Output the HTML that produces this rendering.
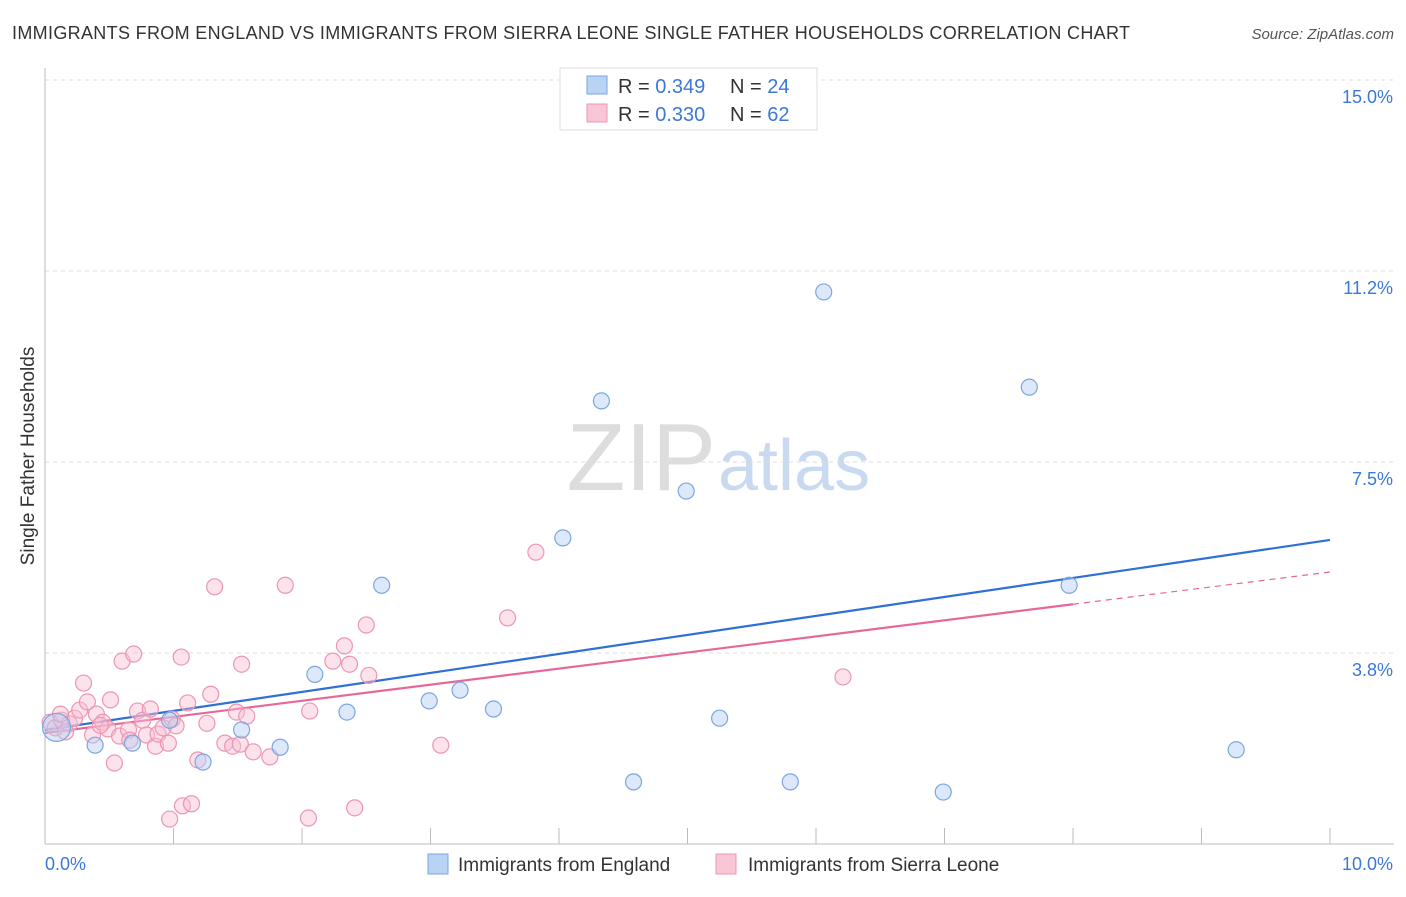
<!DOCTYPE html>
<html><head><meta charset="utf-8"><style>
body{margin:0;background:#fff;font-family:"Liberation Sans",sans-serif;}
svg text{font-family:"Liberation Sans",sans-serif;}
</style></head><body>
<svg id="chart" width="1406" height="892" xmlns="http://www.w3.org/2000/svg">
<text x="12" y="39" font-size="18" fill="#333" textLength="1118" lengthAdjust="spacing">IMMIGRANTS FROM ENGLAND VS IMMIGRANTS FROM SIERRA LEONE SINGLE FATHER HOUSEHOLDS CORRELATION CHART</text>
<text x="1394" y="39" font-size="15" fill="#555" font-style="italic" text-anchor="end">Source: ZipAtlas.com</text>
<text x="716" y="490" font-size="96" fill="#ddd" text-anchor="end" font-family="Liberation Serif">ZIP</text>
<text x="718" y="490" font-size="72" fill="#c9daf0">atlas</text>
<text transform="translate(34,456) rotate(-90)" font-size="19" fill="#333" text-anchor="middle">Single Father Households</text>
<g id="grid"></g><g id="axes"></g><g id="lines"></g><g id="pts"></g>
<g>
<rect x="560" y="68" width="257" height="62" fill="#fff" stroke="#ddd"/>
<rect x="587" y="76" width="20" height="18" fill="#b9d3f5" stroke="#7aa6e0"/>
<rect x="587" y="104" width="20" height="18" fill="#f9c6d6" stroke="#ec96b2"/>
<text x="618" y="93" font-size="20" fill="#333">R = <tspan fill="#3b78d8">0.349</tspan></text>
<text x="730" y="93" font-size="20" fill="#333">N = <tspan fill="#3b78d8">24</tspan></text>
<text x="618" y="121" font-size="20" fill="#333">R = <tspan fill="#3b78d8">0.330</tspan></text>
<text x="730" y="121" font-size="20" fill="#333">N = <tspan fill="#3b78d8">62</tspan></text>
</g>
<g>
<rect x="428" y="854" width="20" height="20" fill="#b9d3f5" stroke="#7aa6e0"/>
<text x="458" y="871" font-size="19" fill="#333">Immigrants from England</text>
<rect x="716" y="854" width="20" height="20" fill="#f9c6d6" stroke="#ec96b2"/>
<text x="748" y="871" font-size="19" fill="#333">Immigrants from Sierra Leone</text>
</g>
</svg>
<script>
const englandX=[0.09,0.39,0.68,0.97,1.23,1.53,1.83,2.10,2.35,2.62,2.99,3.23,3.49,4.03,4.33,4.99,5.25,6.06,5.80,4.58,6.99,7.66,7.97,9.27];
const englandY=[2.29,1.94,1.98,2.43,1.61,2.24,1.90,3.33,2.59,5.08,2.81,3.02,2.65,6.01,8.70,6.93,2.47,10.84,1.22,1.22,1.02,8.97,5.08,1.85];
const leoneX=[0.04,0.08,0.13,0.19,0.23,0.27,0.30,0.33,0.37,0.40,0.45,0.49,0.51,0.54,0.58,0.60,0.65,0.69,0.72,0.76,0.79,0.82,0.86,0.88,0.92,0.96,0.99,1.02,1.06,1.07,1.11,1.14,0.97,1.19,1.26,1.29,1.32,1.40,1.46,1.49,1.52,1.53,1.57,1.62,1.75,1.87,2.06,2.05,2.24,2.33,2.37,2.41,2.50,2.52,3.08,3.60,3.82,6.21,0.12,0.16,0.43,0.66];
const leoneY=[2.39,2.28,2.43,2.36,2.47,2.63,3.16,2.79,2.14,2.55,2.39,2.26,2.83,1.59,2.12,3.59,2.24,3.73,2.61,2.43,2.14,2.65,1.92,2.16,2.28,1.98,2.45,2.32,3.67,0.75,2.77,0.79,0.49,1.65,2.37,2.94,5.05,1.98,1.92,2.59,1.96,3.53,2.51,1.81,1.71,5.08,2.61,0.51,3.59,3.89,3.53,0.71,4.30,3.31,1.94,4.44,5.73,3.28,2.55,2.20,2.33,2.04];
const yTicks=[3.75,7.5,11.25,15.0];
const yTickLabels=["3.8%","7.5%","11.2%","15.0%"];
const xTicks=[0,1,2,3,4,5,6,7,8,9,10];
const englandFit=[2.24,5.97];
const leoneFit=[2.18,5.34];
const NS='http://www.w3.org/2000/svg';
const X=v=>45+v*128.5, Y=v=>844-v*50.93;
function mk(p,t,a){const e=document.createElementNS(NS,t);for(const k in a)e.setAttribute(k,a[k]);document.getElementById(p).appendChild(e);return e;}
yTicks.forEach((t,i)=>{
 const l=mk('grid','line',{x1:45,x2:1394,y1:Y(t),y2:Y(t),stroke:'#ddd','stroke-dasharray':'4,4'});
 
 
 const tx=mk('grid','text',{x:1393,y:Y(t)+23,'font-size':18,fill:'#3b78d8','text-anchor':'end'});
 tx.textContent=yTickLabels[i];
 
 
});
const ax=mk('axes','line',{x1:45,x2:1394,y1:844,y2:844,stroke:'#bbb'});


const ay=mk('axes','line',{x1:45,x2:45,y1:68,y2:844,stroke:'#bbb'});


xTicks.forEach(t=>{const l=mk('axes','line',{x1:X(t),x2:X(t),y1:828,y2:844,stroke:'#bbb'});
 
 });
let t0=mk('axes','text',{x:45,y:870,'font-size':18,fill:'#3b78d8'});t0.textContent='0.0%';


let t1=mk('axes','text',{x:1393,y:870,'font-size':18,fill:'#3b78d8','text-anchor':'end'});t1.textContent='10.0%';


leoneX.forEach((x,i)=>{const c=mk('pts','circle',{cx:X(x),cy:Y(leoneY[i]),r:8,fill:'rgba(249,190,210,0.45)',stroke:'#ec96b2','stroke-width':1.2});
 
 });
englandX.forEach((x,i)=>{const c=mk('pts','circle',{cx:X(x),cy:Y(englandY[i]),r:i==0?14:8,fill:'rgba(180,206,244,0.45)',stroke:'#7aa6e0','stroke-width':1.2});
 
 });
const bl=mk('lines','line',{x1:X(0),y1:Y(englandFit[0]),x2:X(10),y2:Y(englandFit[1]),stroke:'#2f6fd6','stroke-width':2.2});


const pm=leoneFit[0]+(leoneFit[1]-leoneFit[0])*0.8;
const pl=mk('lines','line',{x1:X(0),y1:Y(leoneFit[0]),x2:X(8),y2:Y(pm),stroke:'#e8679a','stroke-width':2.2});


const pd=mk('lines','line',{x1:X(8),y1:Y(pm),x2:X(10),y2:Y(leoneFit[1]),stroke:'#e8679a','stroke-width':1.2,'stroke-dasharray':'6,5'});


</script>
</body></html>
